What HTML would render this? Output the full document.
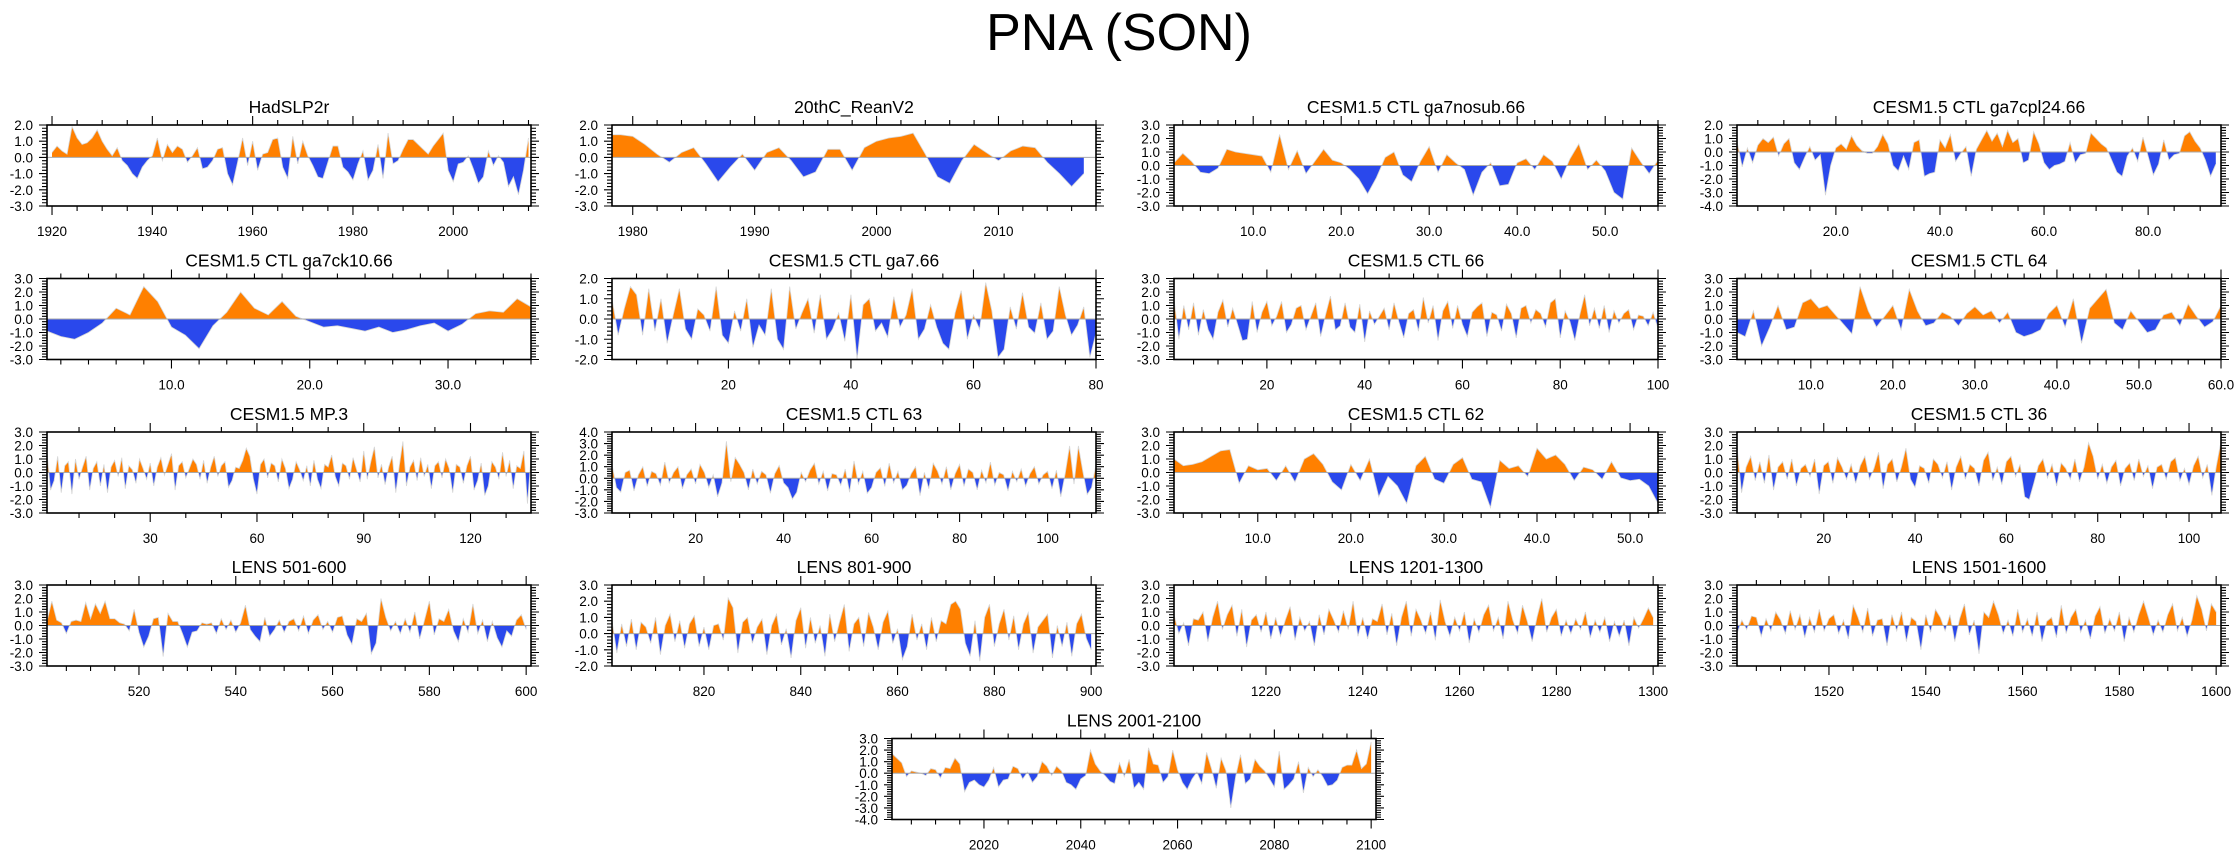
<!DOCTYPE html>
<html><head><meta charset="utf-8"><title>PNA (SON)</title>
<style>
html,body{margin:0;padding:0;background:#fff;}
svg{display:block;font-family:"Liberation Sans",Arial,sans-serif;}
</style></head>
<body>
<svg id="chart" width="2238" height="856" viewBox="0 0 2238 856" xmlns="http://www.w3.org/2000/svg">
<rect x="0" y="0" width="2238" height="856" fill="#fff"/>
<text x="1119" y="50" font-size="52" text-anchor="middle" fill="#000">PNA (SON)</text>
</svg>
<script>
// ---- data ----
const titles = ["HadSLP2r","20thC_ReanV2","CESM1.5 CTL ga7nosub.66","CESM1.5 CTL ga7cpl24.66",
"CESM1.5 CTL ga7ck10.66","CESM1.5 CTL ga7.66","CESM1.5 CTL 66","CESM1.5 CTL 64",
"CESM1.5 MP.3","CESM1.5 CTL 63","CESM1.5 CTL 62","CESM1.5 CTL 36",
"LENS 501-600","LENS 801-900","LENS 1201-1300","LENS 1501-1600","LENS 2001-2100"];
const firstX = [1920,1978,1,1,1,1,1,1,1,1,1,1,501,801,1201,1501,2001];
const domMin = [1919,1978.3,1,1,1,1,1,1,1,1,1,1,501,801,1201,1501,2001];
const domMax = [2015.5,2018,56,94,36,80,100,60,137,111,53,107,601,901,1301,1601,2101];
const yMin = [-3,-3,-3,-4,-3,-2,-3,-3,-3,-3,-3,-3,-3,-2,-3,-3,-4];
const yMax = [2,2,3,2,3,2,3,3,3,4,3,3,3,3,3,3,3];
const xMajor = [20,10,10,20,10,20,20,10,30,20,10,20,20,20,20,20,20];
const xMinor = [5,2,2,5,2,5,5,2,10,5,2,5,5,5,5,5,5];
const xDecimals = [0,0,1,1,1,0,0,1,0,0,1,0,0,0,0,0,0];

const s0 = [0.3,0.7,0.4,0.2,1.9,1.2,0.8,0.9,1.2,1.7,1.0,0.5,0.1,0.6,-0.2,-0.5,-1.0,-1.3,-0.6,-0.2,0.1,1.2,-0.2,0.8,0.3,0.7,0.5,-0.3,0.1,0.6,-0.7,-0.6,-0.2,0.5,0.6,-1.0,-1.7,-0.3,1.2,-0.5,1.0,-0.8,0.2,0.3,1.1,1.2,-0.6,-1.3,1.3,-0.4,1.0,0.1,-0.5,-1.2,-1.3,-0.3,0.7,0.7,-0.6,-0.9,-1.4,-0.4,0.4,-1.4,-0.8,0.8,-1.3,1.5,-0.4,-0.2,0.5,1.1,1.1,0.8,0.5,0.2,0.7,1.1,1.5,-0.8,-1.5,-0.4,-0.3,0.1,-0.7,-1.6,-1.2,0.4,-0.5,0.1,-0.3,-1.8,-1.2,-2.3,-0.8,1.2];
const s1 = [1.4,1.4,1.3,0.8,0.2,-0.3,0.3,0.6,-0.4,-1.5,-0.6,0.2,-0.8,0.3,0.6,-0.2,-1.2,-0.9,0.5,0.5,-0.8,0.6,1.0,1.2,1.3,1.5,0.2,-1.2,-1.6,-0.2,0.8,0.3,-0.2,0.4,0.7,0.6,-0.3,-1.0,-1.8,-1.0];
const s2 = [0.2,0.9,0.3,-0.5,-0.6,-0.2,1.2,1.0,0.9,0.8,0.7,-0.5,2.3,-0.3,1.1,-0.6,0.3,1.2,0.4,0.2,-0.3,-1.0,-2.1,-0.9,0.6,1.0,-0.7,-1.2,0.3,1.4,-0.5,0.8,0.2,-0.3,-2.2,-0.5,0.2,-1.5,-1.4,0.2,0.5,-0.3,0.8,0.3,-1.0,0.5,1.6,-0.3,0.4,-0.4,-2.0,-2.5,1.3,0.3,-0.6,0.4];
const s3 = [0.8,-1.1,0.3,-0.8,0.5,1.0,0.7,1.1,-0.3,0.6,1.0,-0.8,-1.3,-0.4,0.4,-0.6,-0.2,-3.2,-1.0,0.3,0.6,0.2,1.2,0.5,0.1,-0.1,-0.1,0.4,1.3,0.6,-1.0,-1.4,-0.3,-1.3,0.7,0.9,-1.8,-1.6,-1.5,0.9,0.3,1.3,-0.7,-0.1,0.4,-1.8,0.2,0.9,1.6,0.8,1.4,0.4,1.6,0.7,1.0,-0.8,-0.6,1.5,0.6,-0.8,-1.3,-1.0,-0.9,-0.7,0.7,-0.8,-0.2,-0.1,1.4,1.0,0.6,0.3,-0.6,-1.5,-1.8,-0.3,0.3,-0.7,1.1,-0.3,-1.7,-0.9,0.9,-0.6,-0.2,-0.1,1.2,1.5,0.8,0.3,-0.6,-1.8,-0.9];
const s4 = [-0.9,-1.3,-1.5,-1.0,-0.3,0.8,0.3,2.4,1.3,-0.6,-1.2,-2.2,-0.5,0.5,2.0,0.8,0.3,1.3,0.2,-0.2,-0.6,-0.5,-0.7,-0.9,-0.6,-1.0,-0.8,-0.5,-0.3,-0.9,-0.4,0.4,0.6,0.5,1.5,0.9];
const s5 = [1.0,-0.8,0.5,1.6,1.2,-0.8,1.5,-0.6,1.0,-1.2,0.2,1.5,-0.5,-1.0,0.5,0.2,-0.6,1.6,-0.8,-1.2,0.4,-0.6,1.0,-1.4,-0.3,-0.8,1.5,-1.0,-1.5,1.6,-0.5,0.3,1.0,-0.7,1.2,-1.0,-0.5,0.3,-1.1,1.2,-2.0,0.7,1.0,-0.6,-0.2,-0.9,1.1,-0.4,0.2,1.5,-1.0,-0.5,0.7,-0.4,-1.2,-1.5,0.3,1.4,-1.0,0.2,-0.5,1.8,0.4,-1.9,-1.5,0.6,-0.5,1.3,-0.4,-0.7,0.8,-1.0,-0.6,1.6,0.2,-0.8,-0.3,0.6,-1.9,-0.7];
const s6 = [1.5,-1.5,1.0,-0.8,1.2,-1.2,0.7,-0.8,-1.5,0.5,1.4,-0.6,0.8,-0.4,-1.6,-1.5,1.3,-1.0,0.5,1.3,-0.5,0.2,1.3,-1.0,-0.4,0.8,1.0,-0.8,0.2,1.2,-1.3,0.3,1.7,-0.8,-0.5,1.2,-0.6,-1.0,1.1,-1.7,0.6,-0.4,0.2,0.8,-0.8,1.2,-0.2,-1.4,0.4,0.7,-0.9,1.6,-0.3,1.0,-1.6,0.6,1.3,-0.7,1.0,-0.4,-1.3,0.5,0.9,1.2,-1.3,0.5,0.3,-0.9,1.1,0.4,-1.4,0.8,1.0,-0.3,0.7,0.4,-0.6,1.2,1.5,-1.4,0.6,-0.2,-1.6,0.3,1.8,-0.5,0.8,-0.7,1.0,-1.0,0.6,-0.3,0.4,0.7,-0.8,0.3,0.2,-0.5,0.5,-0.7];
const s7 = [-1.0,-1.3,0.6,-2.0,-0.6,1.0,-0.8,-0.6,1.2,1.5,0.8,1.0,0.3,-0.4,-1.1,2.4,0.6,-0.6,0.2,1.0,-0.8,2.2,0.6,-0.5,-0.3,0.5,0.2,-0.5,0.4,0.9,0.3,0.6,-0.3,0.5,-1.0,-1.3,-1.1,-0.8,0.4,1.0,-0.6,1.5,-1.8,0.8,1.5,2.2,-0.3,-0.8,0.6,-0.2,-1.0,-0.8,0.3,0.5,-0.5,1.1,0.2,-0.6,-0.2,1.0];
const s8 = [1.5,-1.3,-0.6,1.2,-1.5,0.5,0.8,-1.6,1.0,-0.5,0.4,1.2,-1.3,0.3,0.8,-1.0,0.6,-1.5,0.4,0.9,-0.3,1.1,-1.2,0.5,0.2,-0.8,1.0,0.3,-0.5,0.7,-1.0,0.4,1.1,-0.2,0.6,1.4,-1.3,0.5,0.8,-0.4,0.3,1.0,0.6,-0.5,0.9,-0.8,0.4,1.2,-0.3,0.5,0.8,-1.1,-0.6,0.4,0.3,0.9,1.8,1.2,-0.5,-1.6,0.6,1.0,-0.4,0.7,0.5,-0.7,1.0,0.3,-1.2,-0.5,0.8,0.2,-0.6,0.5,-1.0,0.9,-0.5,-1.2,0.6,0.4,1.3,-0.3,-1.0,0.7,0.5,-0.5,1.1,0.2,-0.7,1.6,-0.5,0.8,1.9,-0.4,0.6,-0.9,0.4,1.2,-1.5,0.5,2.3,-1.0,0.4,0.9,-0.6,1.1,-0.3,0.6,-1.2,0.5,0.8,-0.4,1.0,0.3,-1.5,0.6,0.4,-0.8,0.5,1.2,-1.3,-0.6,0.7,-1.7,-1.0,0.8,0.4,-0.5,1.5,-0.3,0.9,-1.2,0.5,0.3,1.6,-2.3,1.1];
const s9 = [1.2,-0.8,-1.2,0.5,0.7,-1.1,0.3,1.0,-0.7,0.6,0.4,-0.6,1.4,-0.4,0.5,1.0,-0.9,0.3,0.8,-0.5,1.2,0.5,-0.8,0.3,-1.6,-0.4,3.2,-0.3,1.8,1.2,0.5,-1.0,0.8,-0.5,0.6,0.3,-1.3,0.4,1.1,-0.4,-0.8,-1.8,-1.2,0.5,-0.3,0.7,1.3,-0.5,0.6,-1.1,0.4,0.3,-0.6,0.8,-1.2,1.5,-0.5,0.6,-1.3,-0.8,0.5,0.9,-0.7,1.3,-0.4,0.6,-1.0,-0.6,0.4,1.0,-1.5,0.5,-0.9,1.3,0.6,-0.5,1.0,-1.0,0.4,1.2,-0.7,0.8,0.5,-1.0,0.7,-0.4,1.4,-0.6,0.5,0.3,-1.1,0.6,-0.3,0.8,-0.7,0.4,1.0,-0.5,0.3,0.6,-0.9,0.7,-1.6,0.4,2.8,-0.5,2.8,0.6,-1.4,-0.8,1.2];
const s10 = [1.0,0.5,0.6,0.8,1.2,1.6,1.7,-0.8,0.5,0.2,0.3,-0.6,0.5,-0.7,1.0,1.4,0.6,-0.7,-1.3,0.6,-0.6,1.0,-1.8,-0.3,-1.0,-2.3,0.5,1.2,-0.5,-0.8,0.6,1.1,-0.5,-0.7,-2.6,0.9,0.3,0.5,-0.3,1.8,1.0,1.3,0.6,-0.6,0.4,0.2,-0.5,0.8,-0.4,-0.6,-0.5,-1.0,-2.3];
const s11 = [2.0,-1.5,0.4,1.2,-0.6,0.8,-0.8,1.3,-1.3,0.4,0.8,-0.5,1.0,-1.0,0.3,0.6,-0.3,1.0,-1.6,0.5,0.8,-0.8,1.1,0.4,-0.5,0.6,-0.8,0.5,1.2,-0.5,0.3,1.5,-1.2,0.6,1.0,-0.7,0.4,1.8,-0.5,-1.1,0.5,0.3,-0.8,1.0,0.6,-0.4,0.8,-1.3,0.4,1.2,-0.5,0.6,0.3,-1.0,0.9,1.5,-0.6,0.4,-0.9,0.8,1.2,-0.3,0.6,-1.8,-2.0,-0.8,0.5,1.0,-0.4,0.6,-1.0,0.7,0.3,-0.5,1.0,-0.7,0.4,2.2,1.2,-0.5,0.6,-0.8,0.4,0.9,-1.0,0.3,0.7,-0.6,1.0,-0.3,0.5,-1.2,0.4,0.6,-0.5,0.8,1.1,-0.6,0.3,-0.9,0.5,1.2,-0.4,0.6,-1.7,0.5,2.3];
const s12 = [0.3,1.8,0.4,0.2,-0.6,0.3,0.4,0.3,1.7,0.5,1.6,0.9,1.8,0.5,0.5,0.2,0.1,-0.4,1.2,-0.5,-1.6,-0.8,0.5,0.6,-2.3,0.9,0.3,0.3,-0.6,-1.6,-0.5,-0.4,0.2,0.1,0.2,-0.6,0.5,-0.3,0.4,-0.5,0.2,1.5,-0.3,-0.8,-1.2,0.6,-0.8,-0.3,0.4,-0.5,0.3,0.5,-0.4,0.7,-0.6,0.4,0.8,-0.3,0.3,-0.5,0.6,0.7,-0.7,-1.4,0.5,0.3,0.9,-2.1,-1.3,2.0,0.6,-0.4,0.3,-0.6,0.5,-0.5,1.0,-1.0,0.4,1.8,-0.7,0.5,0.3,1.2,-0.4,-1.2,0.5,-0.5,1.6,-0.6,0.4,-1.2,0.3,-0.9,-1.6,-0.4,-0.8,0.4,0.8,-0.3];
const s13 = [0.8,-1.2,0.6,-0.8,0.9,-1.0,0.7,0.4,-0.6,1.0,-1.3,0.5,1.2,-0.5,0.8,-0.9,0.6,1.1,-0.8,0.4,-1.0,0.5,0.6,-0.4,2.2,1.6,-1.2,0.7,1.0,-0.6,0.4,0.9,-1.3,0.5,1.2,-0.7,0.3,-1.5,0.8,1.6,-0.9,1.0,-0.6,0.5,-1.4,1.2,-0.5,0.7,1.8,-1.1,0.6,1.0,-0.8,1.3,0.4,-1.0,0.7,1.4,-0.6,0.3,-1.6,-0.8,1.2,-0.4,0.6,-1.0,1.0,-0.5,0.8,0.6,1.8,2.0,1.5,-0.6,-1.4,0.8,-1.7,1.0,1.8,-0.8,0.6,1.5,-0.4,1.1,-1.0,0.6,1.3,-1.2,0.4,0.8,1.2,-1.5,0.5,-0.8,0.7,-1.4,0.6,1.2,-0.3,-1.0];
const s14 = [0.8,-0.6,0.2,-1.5,0.5,0.4,1.0,-1.2,0.6,1.8,-0.3,0.8,1.5,-0.8,1.2,-1.6,0.4,0.8,-0.5,1.0,-1.0,0.6,-0.8,0.4,1.4,-1.1,0.6,-0.4,0.3,-1.5,0.8,-0.7,1.2,0.4,-0.5,1.1,-0.3,1.8,-0.8,0.6,-1.0,0.5,0.3,1.6,-0.7,0.9,-1.5,0.6,1.8,-0.8,1.2,0.4,-0.6,1.0,-1.1,1.9,0.3,-0.8,0.6,-0.4,1.0,-1.3,0.5,-0.5,0.8,1.5,-0.4,0.6,-1.0,1.8,0.4,-0.6,1.5,0.3,-1.2,0.6,2.0,-0.5,0.6,1.2,-0.8,0.4,-0.6,0.5,-0.3,1.0,-0.9,0.4,-0.5,0.6,-1.2,0.3,-0.8,0.4,-1.5,0.6,-0.2,0.5,1.3,0.6];
const s15 = [-0.6,0.4,-0.3,0.7,0.6,-0.8,0.5,-0.4,1.0,0.4,-0.6,1.1,-0.3,0.8,-0.9,0.6,-0.5,1.2,-0.4,0.5,0.8,-0.6,0.4,-1.0,1.5,0.6,-0.5,1.3,-0.8,0.4,0.5,-1.5,0.8,-0.4,1.0,-1.2,0.6,0.3,-1.8,0.8,-0.5,1.2,0.6,-0.4,0.8,-1.2,0.5,1.6,-0.7,0.4,-2.1,1.0,0.6,1.8,0.8,-0.6,0.4,-0.8,1.2,-0.5,0.5,-0.8,1.0,-1.2,0.3,0.6,-0.9,1.5,-0.6,0.6,1.2,-0.5,0.4,-1.0,0.7,1.4,-0.6,0.5,-0.4,1.0,-1.2,0.6,-0.5,0.8,1.8,0.6,-0.7,0.4,-0.5,0.8,1.6,-0.4,0.6,-0.8,0.4,2.2,1.2,-0.4,1.6,1.0];
const s16 = [1.7,1.3,0.9,-0.3,0.2,0.1,0,-0.2,0.4,0.3,-0.4,0.5,0.4,1.3,0.8,-1.6,-0.8,-0.6,-1.0,-1.2,-0.6,0.5,-1.2,-0.6,-0.5,0.6,0.4,-0.5,0.1,-0.8,-0.3,1.0,0.6,-0.2,0.6,0.2,-0.8,-1.0,-1.4,-0.5,-0.2,2.0,0.8,0.2,-0.2,-0.7,-0.9,0.9,-0.3,1.2,-1.3,-0.8,-1.4,2.2,0.8,0.7,-0.8,-0.3,2.0,0.3,-0.8,-1.4,-0.5,0.1,-0.9,1.8,0.4,-1.3,1.3,0.2,-3.0,-0.3,1.6,-0.9,-0.5,1.2,0.6,0.2,-0.5,-1.2,1.9,-1.4,-1.0,-0.5,1.0,-1.7,0.5,-0.3,0.3,-0.3,-1.1,-1.0,-0.6,0.5,0.7,0.7,2.0,0.4,0.8,2.7];
const series = [s0,s1,s2,s3,s4,s5,s6,s7,s8,s9,s10,s11,s12,s13,s14,s15,s16];

// ---- layout ----
const svg = document.getElementById('chart');
const NS = 'http://www.w3.org/2000/svg';
const colLeft = [47,612,1174,1737];
const rowTop = [125,278.5,432,585,738.5];
const PW = 484, PH = 81;
function mk(tag, attrs, parent){
  const e = document.createElementNS(NS, tag);
  for (const k in attrs) e.setAttribute(k, attrs[k]);
  parent.appendChild(e);
  return e;
}
function fmtY(v){ const s = Math.abs(v).toFixed(1); return (v < -1e-9 ? '-' : '') + s; }

function drawPanel(k, left, top){
  const w = PW, h = PH, right = left + w, bottom = top + h;
  const d0 = domMin[k], d1 = domMax[k], y0 = yMin[k], y1 = yMax[k];
  const sx = v => left + (v - d0) / (d1 - d0) * w;
  const sy = v => top + (y1 - v) / (y1 - y0) * h;
  const g = mk('g', {}, svg);
  
  
  const zy = sy(0);
  const cidA = 'ca' + k, cidB = 'cb' + k, cidF = 'cf' + k;
  const defs = mk('defs', {}, g);
  const cpA = mk('clipPath', {id: cidA}, defs);
  mk('rect', {x: left, y: top, width: w, height: zy - top}, cpA);
  const cpB = mk('clipPath', {id: cidB}, defs);
  mk('rect', {x: left, y: zy, width: w, height: bottom - zy}, cpB);
  const cpF = mk('clipPath', {id: cidF}, defs);
  mk('rect', {x: left, y: top, width: w, height: h}, cpF);
  const vals = series[k];
  let d = 'M' + sx(firstX[k]).toFixed(2) + ',' + zy.toFixed(2);
  let ld = '';
  vals.forEach((v, i) => {
    const px = sx(firstX[k] + i).toFixed(2), py = sy(v).toFixed(2);
    d += ' L' + px + ',' + py;
    ld += (i ? ' L' : 'M') + px + ',' + py;
  });
  d += ' L' + sx(firstX[k] + vals.length - 1).toFixed(2) + ',' + zy.toFixed(2) + ' Z';
  const pos = mk('path', {d: d, fill: '#ff8000', 'clip-path': 'url(#' + cidA + ')'}, g);
  
  
  const neg = mk('path', {d: d, fill: '#2a48ec', 'clip-path': 'url(#' + cidB + ')'}, g);
  
  
  const ln = mk('path', {d: ld, fill: 'none', stroke: '#d6d6d6', 'stroke-width': 0.8, 'clip-path': 'url(#' + cidF + ')'}, g);
  
  
  const zl = mk('line', {x1: left, x2: right, y1: zy, y2: zy, stroke: '#a8a8a8', 'stroke-width': 1}, g);
  
  
  const fr = mk('rect', {x: left, y: top, width: w, height: h, fill: 'none', stroke: '#000', 'stroke-width': 1.6}, g);
  
  
  // x ticks
  const mn = xMinor[k], mj = xMajor[k];
  let tickPath = '';
  for (let t = Math.ceil(d0 / mn) * mn; t <= d1 + 1e-6; t += mn) {
    const x = sx(t).toFixed(2);
    const isMaj = Math.abs(t / mj - Math.round(t / mj)) < 1e-6;
    const L = isMaj ? 9 : 5;
    tickPath += 'M' + x + ',' + bottom + ' V' + (bottom + L) + ' M' + x + ',' + top + ' V' + (top - L) + ' ';
    if (isMaj) {
      const tx = mk('text', {x: x, y: bottom + 30, 'font-size': 13.5, 'text-anchor': 'middle', fill: '#000'}, g);
      
      
      tx.textContent = t.toFixed(xDecimals[k]);
    }
  }
  // y ticks
  for (let i = 0; i <= Math.round((y1 - y0) / 0.2); i++) {
    const v = y0 + i * 0.2;
    const y = sy(v).toFixed(2);
    const isMaj = i % 5 === 0;
    const L = isMaj ? 8 : 5;
    tickPath += 'M' + left + ',' + y + ' H' + (left - L) + ' M' + right + ',' + y + ' H' + (right + L) + ' ';
    if (isMaj) {
      const ty = mk('text', {x: left - 14, y: (+y + 5).toFixed(2), 'font-size': 13.5, 'text-anchor': 'end', fill: '#000'}, g);
      
      
      ty.textContent = fmtY(v);
    }
  }
  const tp = mk('path', {d: tickPath, stroke: '#000', 'stroke-width': 1.1, fill: 'none'}, g);
  
  
  const tt = mk('text', {x: left + w / 2, y: top - 12, 'font-size': 17.5, 'text-anchor': 'middle', fill: '#000'}, g);
  
  
  tt.textContent = titles[k];
}

for (let k = 0; k < 16; k++) drawPanel(k, colLeft[k % 4], rowTop[Math.floor(k / 4)]);
drawPanel(16, 892, rowTop[4]);
</script>
</body></html>
